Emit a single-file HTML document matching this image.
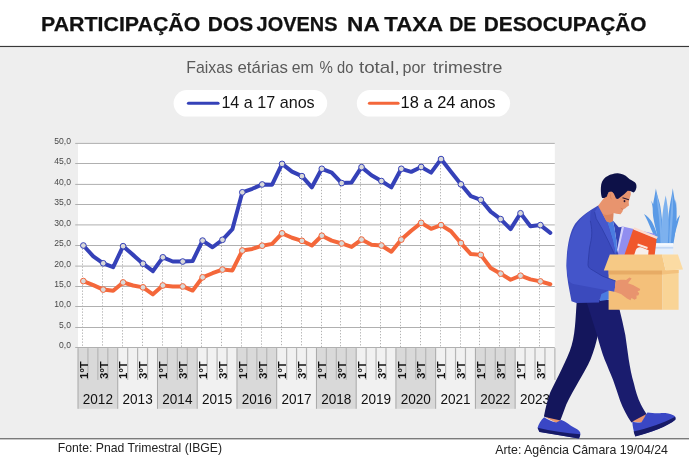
<!DOCTYPE html>
<html><head><meta charset="utf-8"><title>Participação dos jovens na taxa de desocupação</title>
<style>html,body{margin:0;padding:0;background:#fff;}body{width:689px;height:462px;overflow:hidden;position:relative;font-family:"Liberation Sans",sans-serif;}</style></head>
<body>
<svg width="689" height="462" viewBox="0 0 689 462" style="position:absolute;left:0;top:0;will-change:transform;font-family:'Liberation Sans',sans-serif">
<rect x="0" y="0" width="689" height="462" fill="#fff"/>
<rect x="0" y="47" width="689" height="391.5" fill="#eeeeee"/>
<rect x="0" y="45.9" width="689" height="1.15" fill="#383838"/>
<rect x="0" y="438.05" width="689" height="1.35" fill="#747474"/>
<text x="41.03" y="31.3" font-size="20.3" fill="#111" font-weight="bold" stroke="#111" stroke-width="0.25" textLength="159.30" lengthAdjust="spacingAndGlyphs">PARTICIPAÇÃO</text>
<text x="207.85" y="31.3" font-size="20.3" fill="#111" font-weight="bold" stroke="#111" stroke-width="0.25" textLength="45.23" lengthAdjust="spacingAndGlyphs">DOS</text>
<text x="256.60" y="31.3" font-size="20.3" fill="#111" font-weight="bold" stroke="#111" stroke-width="0.25" textLength="80.85" lengthAdjust="spacingAndGlyphs">JOVENS</text>
<text x="347.10" y="31.3" font-size="20.3" fill="#111" font-weight="bold" stroke="#111" stroke-width="0.25" textLength="32.67" lengthAdjust="spacingAndGlyphs">NA</text>
<text x="384.33" y="31.3" font-size="20.3" fill="#111" font-weight="bold" stroke="#111" stroke-width="0.25" textLength="58.72" lengthAdjust="spacingAndGlyphs">TAXA</text>
<text x="449.26" y="31.3" font-size="20.3" fill="#111" font-weight="bold" stroke="#111" stroke-width="0.25" textLength="27.09" lengthAdjust="spacingAndGlyphs">DE</text>
<text x="483.84" y="31.3" font-size="20.3" fill="#111" font-weight="bold" stroke="#111" stroke-width="0.25" textLength="162.66" lengthAdjust="spacingAndGlyphs">DESOCUPAÇÃO</text>
<text x="186.25" y="72.6" font-size="16.2" fill="#5a5a5a"  textLength="46.68" lengthAdjust="spacingAndGlyphs">Faixas</text>
<text x="237.49" y="72.6" font-size="16.2" fill="#5a5a5a"  textLength="50.54" lengthAdjust="spacingAndGlyphs">etárias</text>
<text x="291.70" y="72.6" font-size="16.2" fill="#5a5a5a"  textLength="21.93" lengthAdjust="spacingAndGlyphs">em</text>
<text x="319.57" y="72.6" font-size="16.2" fill="#5a5a5a"  textLength="13.39" lengthAdjust="spacingAndGlyphs">%</text>
<text x="337.06" y="72.6" font-size="16.2" fill="#5a5a5a"  textLength="16.34" lengthAdjust="spacingAndGlyphs">do</text>
<text x="358.99" y="72.6" font-size="16.2" fill="#5a5a5a"  textLength="40.64" lengthAdjust="spacingAndGlyphs">total,</text>
<text x="402.48" y="72.6" font-size="16.2" fill="#5a5a5a"  textLength="23.23" lengthAdjust="spacingAndGlyphs">por</text>
<text x="433.04" y="72.6" font-size="16.2" fill="#5a5a5a"  textLength="69.33" lengthAdjust="spacingAndGlyphs">trimestre</text>
<rect x="173.6" y="90.1" width="153.6" height="26.5" rx="13.25" fill="#fff"/>
<rect x="356.8" y="90.1" width="153.3" height="26.5" rx="13.25" fill="#fff"/>
<line x1="188.5" y1="103.25" x2="218" y2="103.25" stroke="#3541b8" stroke-width="3.2" stroke-linecap="round"/>
<line x1="369.5" y1="103.25" x2="398" y2="103.25" stroke="#f4673a" stroke-width="3.2" stroke-linecap="round"/>
<text x="221.4" y="108" font-size="17" fill="#151515" textLength="93.3" lengthAdjust="spacingAndGlyphs">14 a 17 anos</text>
<text x="400.6" y="108" font-size="17" fill="#111" textLength="95" lengthAdjust="spacingAndGlyphs">18 a 24 anos</text>
<rect x="78" y="143.3" width="476.8" height="204" fill="#fff"/>
<rect x="75.2" y="347.00" width="479.6" height="1" fill="#b0b0b0"/>
<text x="59.10" y="348.10" font-size="9.1" fill="#484848" textLength="11.9" lengthAdjust="spacingAndGlyphs">0,0</text>
<rect x="75.2" y="327.00" width="479.6" height="1" fill="#b0b0b0"/>
<text x="59.10" y="328.10" font-size="9.1" fill="#484848" textLength="11.9" lengthAdjust="spacingAndGlyphs">5,0</text>
<rect x="75.2" y="306.00" width="479.6" height="1" fill="#b0b0b0"/>
<text x="54.30" y="307.10" font-size="9.1" fill="#484848" textLength="16.7" lengthAdjust="spacingAndGlyphs">10,0</text>
<rect x="75.2" y="286.00" width="479.6" height="1" fill="#b0b0b0"/>
<text x="54.30" y="287.10" font-size="9.1" fill="#484848" textLength="16.7" lengthAdjust="spacingAndGlyphs">15,0</text>
<rect x="75.2" y="265.60" width="479.6" height="1" fill="#b0b0b0"/>
<text x="54.30" y="266.70" font-size="9.1" fill="#484848" textLength="16.7" lengthAdjust="spacingAndGlyphs">20,0</text>
<rect x="75.2" y="245.00" width="479.6" height="1" fill="#b0b0b0"/>
<text x="54.30" y="246.10" font-size="9.1" fill="#484848" textLength="16.7" lengthAdjust="spacingAndGlyphs">25,0</text>
<rect x="75.2" y="224.40" width="479.6" height="1" fill="#b0b0b0"/>
<text x="54.30" y="225.50" font-size="9.1" fill="#484848" textLength="16.7" lengthAdjust="spacingAndGlyphs">30,0</text>
<rect x="75.2" y="204.00" width="479.6" height="1" fill="#b0b0b0"/>
<text x="54.30" y="205.10" font-size="9.1" fill="#484848" textLength="16.7" lengthAdjust="spacingAndGlyphs">35,0</text>
<rect x="75.2" y="183.90" width="479.6" height="1" fill="#b0b0b0"/>
<text x="54.30" y="185.00" font-size="9.1" fill="#484848" textLength="16.7" lengthAdjust="spacingAndGlyphs">40,0</text>
<rect x="75.2" y="163.00" width="479.6" height="1" fill="#b0b0b0"/>
<text x="54.30" y="164.10" font-size="9.1" fill="#484848" textLength="16.7" lengthAdjust="spacingAndGlyphs">45,0</text>
<rect x="75.2" y="142.90" width="479.6" height="1" fill="#b0b0b0"/>
<text x="54.30" y="144.00" font-size="9.1" fill="#484848" textLength="16.7" lengthAdjust="spacingAndGlyphs">50,0</text>
<rect x="78.00" y="348.1" width="39.74" height="60.70" fill="#d9d9d9"/>
<rect x="117.74" y="348.1" width="39.74" height="60.70" fill="#f1f1f1"/>
<rect x="157.48" y="348.1" width="39.74" height="60.70" fill="#d9d9d9"/>
<rect x="197.22" y="348.1" width="39.74" height="60.70" fill="#f1f1f1"/>
<rect x="236.96" y="348.1" width="39.74" height="60.70" fill="#d9d9d9"/>
<rect x="276.70" y="348.1" width="39.74" height="60.70" fill="#f1f1f1"/>
<rect x="316.44" y="348.1" width="39.74" height="60.70" fill="#d9d9d9"/>
<rect x="356.18" y="348.1" width="39.74" height="60.70" fill="#f1f1f1"/>
<rect x="395.92" y="348.1" width="39.74" height="60.70" fill="#d9d9d9"/>
<rect x="435.66" y="348.1" width="39.74" height="60.70" fill="#f1f1f1"/>
<rect x="475.40" y="348.1" width="39.74" height="60.70" fill="#d9d9d9"/>
<rect x="515.14" y="348.1" width="39.74" height="60.70" fill="#f1f1f1"/>
<rect x="77.50" y="348.1" width="1" height="60.70" fill="#a8a8a8"/>
<rect x="87.34" y="348.1" width="1.2" height="31.80" fill="#b6b6b6"/>
<rect x="97.27" y="348.1" width="1.2" height="31.80" fill="#b6b6b6"/>
<rect x="107.21" y="348.1" width="1.2" height="31.80" fill="#b6b6b6"/>
<rect x="117.24" y="348.1" width="1" height="60.70" fill="#a8a8a8"/>
<rect x="127.08" y="348.1" width="1.2" height="31.80" fill="#b6b6b6"/>
<rect x="137.01" y="348.1" width="1.2" height="31.80" fill="#b6b6b6"/>
<rect x="146.95" y="348.1" width="1.2" height="31.80" fill="#b6b6b6"/>
<rect x="156.98" y="348.1" width="1" height="60.70" fill="#a8a8a8"/>
<rect x="166.82" y="348.1" width="1.2" height="31.80" fill="#b6b6b6"/>
<rect x="176.75" y="348.1" width="1.2" height="31.80" fill="#b6b6b6"/>
<rect x="186.69" y="348.1" width="1.2" height="31.80" fill="#b6b6b6"/>
<rect x="196.72" y="348.1" width="1" height="60.70" fill="#a8a8a8"/>
<rect x="206.56" y="348.1" width="1.2" height="31.80" fill="#b6b6b6"/>
<rect x="216.49" y="348.1" width="1.2" height="31.80" fill="#b6b6b6"/>
<rect x="226.43" y="348.1" width="1.2" height="31.80" fill="#b6b6b6"/>
<rect x="236.46" y="348.1" width="1" height="60.70" fill="#a8a8a8"/>
<rect x="246.30" y="348.1" width="1.2" height="31.80" fill="#b6b6b6"/>
<rect x="256.23" y="348.1" width="1.2" height="31.80" fill="#b6b6b6"/>
<rect x="266.16" y="348.1" width="1.2" height="31.80" fill="#b6b6b6"/>
<rect x="276.20" y="348.1" width="1" height="60.70" fill="#a8a8a8"/>
<rect x="286.03" y="348.1" width="1.2" height="31.80" fill="#b6b6b6"/>
<rect x="295.97" y="348.1" width="1.2" height="31.80" fill="#b6b6b6"/>
<rect x="305.90" y="348.1" width="1.2" height="31.80" fill="#b6b6b6"/>
<rect x="315.94" y="348.1" width="1" height="60.70" fill="#a8a8a8"/>
<rect x="325.77" y="348.1" width="1.2" height="31.80" fill="#b6b6b6"/>
<rect x="335.71" y="348.1" width="1.2" height="31.80" fill="#b6b6b6"/>
<rect x="345.64" y="348.1" width="1.2" height="31.80" fill="#b6b6b6"/>
<rect x="355.68" y="348.1" width="1" height="60.70" fill="#a8a8a8"/>
<rect x="365.51" y="348.1" width="1.2" height="31.80" fill="#b6b6b6"/>
<rect x="375.45" y="348.1" width="1.2" height="31.80" fill="#b6b6b6"/>
<rect x="385.38" y="348.1" width="1.2" height="31.80" fill="#b6b6b6"/>
<rect x="395.42" y="348.1" width="1" height="60.70" fill="#a8a8a8"/>
<rect x="405.25" y="348.1" width="1.2" height="31.80" fill="#b6b6b6"/>
<rect x="415.19" y="348.1" width="1.2" height="31.80" fill="#b6b6b6"/>
<rect x="425.12" y="348.1" width="1.2" height="31.80" fill="#b6b6b6"/>
<rect x="435.16" y="348.1" width="1" height="60.70" fill="#a8a8a8"/>
<rect x="445.00" y="348.1" width="1.2" height="31.80" fill="#b6b6b6"/>
<rect x="454.93" y="348.1" width="1.2" height="31.80" fill="#b6b6b6"/>
<rect x="464.87" y="348.1" width="1.2" height="31.80" fill="#b6b6b6"/>
<rect x="474.90" y="348.1" width="1" height="60.70" fill="#a8a8a8"/>
<rect x="484.74" y="348.1" width="1.2" height="31.80" fill="#b6b6b6"/>
<rect x="494.67" y="348.1" width="1.2" height="31.80" fill="#b6b6b6"/>
<rect x="504.61" y="348.1" width="1.2" height="31.80" fill="#b6b6b6"/>
<rect x="514.64" y="348.1" width="1" height="60.70" fill="#a8a8a8"/>
<rect x="524.48" y="348.1" width="1.2" height="31.80" fill="#b6b6b6"/>
<rect x="534.41" y="348.1" width="1.2" height="31.80" fill="#b6b6b6"/>
<rect x="544.35" y="348.1" width="1.2" height="31.80" fill="#b6b6b6"/>
<rect x="554.28" y="348.1" width="1.2" height="31.80" fill="#b6b6b6"/>
<text x="82.77" y="403.9" font-size="13.8" fill="#111" textLength="30.2" lengthAdjust="spacingAndGlyphs">2012</text>
<text transform="translate(87.67,379.0) rotate(-90)" font-size="10.5" font-weight="bold" fill="#111" textLength="17.6" lengthAdjust="spacingAndGlyphs">1ºT</text>
<text transform="translate(107.54,379.0) rotate(-90)" font-size="10.5" font-weight="bold" fill="#111" textLength="17.6" lengthAdjust="spacingAndGlyphs">3ºT</text>
<text x="122.51" y="403.9" font-size="13.8" fill="#111" textLength="30.2" lengthAdjust="spacingAndGlyphs">2013</text>
<text transform="translate(127.41,379.0) rotate(-90)" font-size="10.5" font-weight="bold" fill="#111" textLength="17.6" lengthAdjust="spacingAndGlyphs">1ºT</text>
<text transform="translate(147.28,379.0) rotate(-90)" font-size="10.5" font-weight="bold" fill="#111" textLength="17.6" lengthAdjust="spacingAndGlyphs">3ºT</text>
<text x="162.25" y="403.9" font-size="13.8" fill="#111" textLength="30.2" lengthAdjust="spacingAndGlyphs">2014</text>
<text transform="translate(167.15,379.0) rotate(-90)" font-size="10.5" font-weight="bold" fill="#111" textLength="17.6" lengthAdjust="spacingAndGlyphs">1ºT</text>
<text transform="translate(187.02,379.0) rotate(-90)" font-size="10.5" font-weight="bold" fill="#111" textLength="17.6" lengthAdjust="spacingAndGlyphs">3ºT</text>
<text x="201.99" y="403.9" font-size="13.8" fill="#111" textLength="30.2" lengthAdjust="spacingAndGlyphs">2015</text>
<text transform="translate(206.89,379.0) rotate(-90)" font-size="10.5" font-weight="bold" fill="#111" textLength="17.6" lengthAdjust="spacingAndGlyphs">1ºT</text>
<text transform="translate(226.76,379.0) rotate(-90)" font-size="10.5" font-weight="bold" fill="#111" textLength="17.6" lengthAdjust="spacingAndGlyphs">3ºT</text>
<text x="241.73" y="403.9" font-size="13.8" fill="#111" textLength="30.2" lengthAdjust="spacingAndGlyphs">2016</text>
<text transform="translate(246.63,379.0) rotate(-90)" font-size="10.5" font-weight="bold" fill="#111" textLength="17.6" lengthAdjust="spacingAndGlyphs">1ºT</text>
<text transform="translate(266.50,379.0) rotate(-90)" font-size="10.5" font-weight="bold" fill="#111" textLength="17.6" lengthAdjust="spacingAndGlyphs">3ºT</text>
<text x="281.47" y="403.9" font-size="13.8" fill="#111" textLength="30.2" lengthAdjust="spacingAndGlyphs">2017</text>
<text transform="translate(286.37,379.0) rotate(-90)" font-size="10.5" font-weight="bold" fill="#111" textLength="17.6" lengthAdjust="spacingAndGlyphs">1ºT</text>
<text transform="translate(306.24,379.0) rotate(-90)" font-size="10.5" font-weight="bold" fill="#111" textLength="17.6" lengthAdjust="spacingAndGlyphs">3ºT</text>
<text x="321.21" y="403.9" font-size="13.8" fill="#111" textLength="30.2" lengthAdjust="spacingAndGlyphs">2018</text>
<text transform="translate(326.11,379.0) rotate(-90)" font-size="10.5" font-weight="bold" fill="#111" textLength="17.6" lengthAdjust="spacingAndGlyphs">1ºT</text>
<text transform="translate(345.98,379.0) rotate(-90)" font-size="10.5" font-weight="bold" fill="#111" textLength="17.6" lengthAdjust="spacingAndGlyphs">3ºT</text>
<text x="360.95" y="403.9" font-size="13.8" fill="#111" textLength="30.2" lengthAdjust="spacingAndGlyphs">2019</text>
<text transform="translate(365.85,379.0) rotate(-90)" font-size="10.5" font-weight="bold" fill="#111" textLength="17.6" lengthAdjust="spacingAndGlyphs">1ºT</text>
<text transform="translate(385.72,379.0) rotate(-90)" font-size="10.5" font-weight="bold" fill="#111" textLength="17.6" lengthAdjust="spacingAndGlyphs">3ºT</text>
<text x="400.69" y="403.9" font-size="13.8" fill="#111" textLength="30.2" lengthAdjust="spacingAndGlyphs">2020</text>
<text transform="translate(405.59,379.0) rotate(-90)" font-size="10.5" font-weight="bold" fill="#111" textLength="17.6" lengthAdjust="spacingAndGlyphs">1ºT</text>
<text transform="translate(425.46,379.0) rotate(-90)" font-size="10.5" font-weight="bold" fill="#111" textLength="17.6" lengthAdjust="spacingAndGlyphs">3ºT</text>
<text x="440.43" y="403.9" font-size="13.8" fill="#111" textLength="30.2" lengthAdjust="spacingAndGlyphs">2021</text>
<text transform="translate(445.33,379.0) rotate(-90)" font-size="10.5" font-weight="bold" fill="#111" textLength="17.6" lengthAdjust="spacingAndGlyphs">1ºT</text>
<text transform="translate(465.20,379.0) rotate(-90)" font-size="10.5" font-weight="bold" fill="#111" textLength="17.6" lengthAdjust="spacingAndGlyphs">3ºT</text>
<text x="480.17" y="403.9" font-size="13.8" fill="#111" textLength="30.2" lengthAdjust="spacingAndGlyphs">2022</text>
<text transform="translate(485.07,379.0) rotate(-90)" font-size="10.5" font-weight="bold" fill="#111" textLength="17.6" lengthAdjust="spacingAndGlyphs">1ºT</text>
<text transform="translate(504.94,379.0) rotate(-90)" font-size="10.5" font-weight="bold" fill="#111" textLength="17.6" lengthAdjust="spacingAndGlyphs">3ºT</text>
<text x="519.91" y="403.9" font-size="13.8" fill="#111" textLength="30.2" lengthAdjust="spacingAndGlyphs">2023</text>
<text transform="translate(524.81,379.0) rotate(-90)" font-size="10.5" font-weight="bold" fill="#111" textLength="17.6" lengthAdjust="spacingAndGlyphs">1ºT</text>
<text transform="translate(544.68,379.0) rotate(-90)" font-size="10.5" font-weight="bold" fill="#111" textLength="17.6" lengthAdjust="spacingAndGlyphs">3ºT</text>
<line x1="82.50" y1="248.50" x2="82.50" y2="347.50" stroke="#b2b2b2" stroke-width="1" stroke-dasharray="1.3 1.7"/>
<line x1="102.50" y1="266.29" x2="102.50" y2="347.50" stroke="#b2b2b2" stroke-width="1" stroke-dasharray="1.3 1.7"/>
<line x1="122.50" y1="249.19" x2="122.50" y2="347.50" stroke="#b2b2b2" stroke-width="1" stroke-dasharray="1.3 1.7"/>
<line x1="142.50" y1="266.66" x2="142.50" y2="347.50" stroke="#b2b2b2" stroke-width="1" stroke-dasharray="1.3 1.7"/>
<line x1="162.50" y1="260.33" x2="162.50" y2="347.50" stroke="#b2b2b2" stroke-width="1" stroke-dasharray="1.3 1.7"/>
<line x1="181.50" y1="264.53" x2="181.50" y2="347.50" stroke="#b2b2b2" stroke-width="1" stroke-dasharray="1.3 1.7"/>
<line x1="201.50" y1="243.60" x2="201.50" y2="347.50" stroke="#b2b2b2" stroke-width="1" stroke-dasharray="1.3 1.7"/>
<line x1="221.50" y1="242.79" x2="221.50" y2="347.50" stroke="#b2b2b2" stroke-width="1" stroke-dasharray="1.3 1.7"/>
<line x1="241.50" y1="195.30" x2="241.50" y2="347.50" stroke="#b2b2b2" stroke-width="1" stroke-dasharray="1.3 1.7"/>
<line x1="261.50" y1="187.46" x2="261.50" y2="347.50" stroke="#b2b2b2" stroke-width="1" stroke-dasharray="1.3 1.7"/>
<line x1="281.50" y1="166.90" x2="281.50" y2="347.50" stroke="#b2b2b2" stroke-width="1" stroke-dasharray="1.3 1.7"/>
<line x1="301.50" y1="179.14" x2="301.50" y2="347.50" stroke="#b2b2b2" stroke-width="1" stroke-dasharray="1.3 1.7"/>
<line x1="321.50" y1="171.80" x2="321.50" y2="347.50" stroke="#b2b2b2" stroke-width="1" stroke-dasharray="1.3 1.7"/>
<line x1="340.50" y1="186.08" x2="340.50" y2="347.50" stroke="#b2b2b2" stroke-width="1" stroke-dasharray="1.3 1.7"/>
<line x1="360.50" y1="170.16" x2="360.50" y2="347.50" stroke="#b2b2b2" stroke-width="1" stroke-dasharray="1.3 1.7"/>
<line x1="380.50" y1="184.04" x2="380.50" y2="347.50" stroke="#b2b2b2" stroke-width="1" stroke-dasharray="1.3 1.7"/>
<line x1="400.50" y1="171.80" x2="400.50" y2="347.50" stroke="#b2b2b2" stroke-width="1" stroke-dasharray="1.3 1.7"/>
<line x1="420.50" y1="169.96" x2="420.50" y2="347.50" stroke="#b2b2b2" stroke-width="1" stroke-dasharray="1.3 1.7"/>
<line x1="440.50" y1="162.09" x2="440.50" y2="347.50" stroke="#b2b2b2" stroke-width="1" stroke-dasharray="1.3 1.7"/>
<line x1="460.50" y1="187.30" x2="460.50" y2="347.50" stroke="#b2b2b2" stroke-width="1" stroke-dasharray="1.3 1.7"/>
<line x1="479.50" y1="202.80" x2="479.50" y2="347.50" stroke="#b2b2b2" stroke-width="1" stroke-dasharray="1.3 1.7"/>
<line x1="499.50" y1="222.10" x2="499.50" y2="347.50" stroke="#b2b2b2" stroke-width="1" stroke-dasharray="1.3 1.7"/>
<line x1="519.50" y1="216.27" x2="519.50" y2="347.50" stroke="#b2b2b2" stroke-width="1" stroke-dasharray="1.3 1.7"/>
<line x1="539.50" y1="228.10" x2="539.50" y2="347.50" stroke="#b2b2b2" stroke-width="1" stroke-dasharray="1.3 1.7"/>
<polyline points="83.37,281.08 93.30,285.08 103.24,289.60 113.17,290.79 123.11,282.46 133.04,285.48 142.98,287.36 152.91,294.34 162.85,285.48 172.78,286.46 182.72,286.46 192.65,290.58 202.59,277.32 212.52,273.24 222.46,269.57 232.39,270.39 242.33,250.52 252.26,248.97 262.20,245.66 272.13,243.87 282.07,233.34 292.00,237.75 301.94,240.81 311.87,245.50 321.81,235.71 331.74,240.60 341.68,243.46 351.61,246.89 361.55,239.58 371.48,244.68 381.42,245.50 391.35,251.74 401.29,239.58 411.22,230.81 421.16,222.86 431.09,228.77 441.03,225.10 450.96,231.22 460.90,243.05 470.83,254.07 480.77,254.88 490.70,267.94 500.64,273.65 510.57,279.77 520.51,275.69 530.44,279.36 540.38,281.40 550.31,284.26" fill="none" stroke="#f4673a" stroke-width="4" stroke-linejoin="round" stroke-linecap="round"/>
<circle cx="83.37" cy="281.08" r="2.85" fill="#d9d9d9" stroke="#f4673a" stroke-width="1.0"/>
<circle cx="103.24" cy="289.60" r="2.85" fill="#d9d9d9" stroke="#f4673a" stroke-width="1.0"/>
<circle cx="123.11" cy="282.46" r="2.85" fill="#d9d9d9" stroke="#f4673a" stroke-width="1.0"/>
<circle cx="142.98" cy="287.36" r="2.85" fill="#d9d9d9" stroke="#f4673a" stroke-width="1.0"/>
<circle cx="162.85" cy="285.48" r="2.85" fill="#d9d9d9" stroke="#f4673a" stroke-width="1.0"/>
<circle cx="182.72" cy="286.46" r="2.85" fill="#d9d9d9" stroke="#f4673a" stroke-width="1.0"/>
<circle cx="202.59" cy="277.32" r="2.85" fill="#d9d9d9" stroke="#f4673a" stroke-width="1.0"/>
<circle cx="222.46" cy="269.57" r="2.85" fill="#d9d9d9" stroke="#f4673a" stroke-width="1.0"/>
<circle cx="242.33" cy="250.52" r="2.85" fill="#d9d9d9" stroke="#f4673a" stroke-width="1.0"/>
<circle cx="262.20" cy="245.66" r="2.85" fill="#d9d9d9" stroke="#f4673a" stroke-width="1.0"/>
<circle cx="282.07" cy="233.34" r="2.85" fill="#d9d9d9" stroke="#f4673a" stroke-width="1.0"/>
<circle cx="301.94" cy="240.81" r="2.85" fill="#d9d9d9" stroke="#f4673a" stroke-width="1.0"/>
<circle cx="321.81" cy="235.71" r="2.85" fill="#d9d9d9" stroke="#f4673a" stroke-width="1.0"/>
<circle cx="341.68" cy="243.46" r="2.85" fill="#d9d9d9" stroke="#f4673a" stroke-width="1.0"/>
<circle cx="361.55" cy="239.58" r="2.85" fill="#d9d9d9" stroke="#f4673a" stroke-width="1.0"/>
<circle cx="381.42" cy="245.50" r="2.85" fill="#d9d9d9" stroke="#f4673a" stroke-width="1.0"/>
<circle cx="401.29" cy="239.58" r="2.85" fill="#d9d9d9" stroke="#f4673a" stroke-width="1.0"/>
<circle cx="421.16" cy="222.86" r="2.85" fill="#d9d9d9" stroke="#f4673a" stroke-width="1.0"/>
<circle cx="441.03" cy="225.10" r="2.85" fill="#d9d9d9" stroke="#f4673a" stroke-width="1.0"/>
<circle cx="460.90" cy="243.05" r="2.85" fill="#d9d9d9" stroke="#f4673a" stroke-width="1.0"/>
<circle cx="480.77" cy="254.88" r="2.85" fill="#d9d9d9" stroke="#f4673a" stroke-width="1.0"/>
<circle cx="500.64" cy="273.65" r="2.85" fill="#d9d9d9" stroke="#f4673a" stroke-width="1.0"/>
<circle cx="520.51" cy="275.69" r="2.85" fill="#d9d9d9" stroke="#f4673a" stroke-width="1.0"/>
<circle cx="540.38" cy="281.40" r="2.85" fill="#d9d9d9" stroke="#f4673a" stroke-width="1.0"/>
<polyline points="83.37,245.50 93.30,256.31 103.24,263.29 113.17,267.12 123.11,246.19 133.04,254.88 142.98,263.66 152.91,271.20 162.85,257.33 172.78,261.53 182.72,261.53 192.65,261.00 202.59,240.60 212.52,247.25 222.46,239.79 232.39,229.18 242.33,192.30 252.26,188.79 262.20,184.46 272.13,184.71 282.07,163.90 292.00,171.65 301.94,176.14 311.87,187.32 321.81,168.80 331.74,172.59 341.68,183.08 351.61,182.46 361.55,167.16 371.48,175.32 381.42,181.04 391.35,187.32 401.29,168.80 411.22,171.86 421.16,166.96 431.09,172.63 441.03,159.09 450.96,171.65 460.90,184.30 470.83,196.13 480.77,199.80 490.70,211.64 500.64,219.10 510.57,229.18 520.51,213.27 530.44,226.32 540.38,225.10 550.31,232.85" fill="none" stroke="#3541b8" stroke-width="4" stroke-linejoin="round" stroke-linecap="round"/>
<circle cx="83.37" cy="245.50" r="2.85" fill="#d9d9d9" stroke="#3541b8" stroke-width="1.0"/>
<circle cx="103.24" cy="263.29" r="2.85" fill="#d9d9d9" stroke="#3541b8" stroke-width="1.0"/>
<circle cx="123.11" cy="246.19" r="2.85" fill="#d9d9d9" stroke="#3541b8" stroke-width="1.0"/>
<circle cx="142.98" cy="263.66" r="2.85" fill="#d9d9d9" stroke="#3541b8" stroke-width="1.0"/>
<circle cx="162.85" cy="257.33" r="2.85" fill="#d9d9d9" stroke="#3541b8" stroke-width="1.0"/>
<circle cx="182.72" cy="261.53" r="2.85" fill="#d9d9d9" stroke="#3541b8" stroke-width="1.0"/>
<circle cx="202.59" cy="240.60" r="2.85" fill="#d9d9d9" stroke="#3541b8" stroke-width="1.0"/>
<circle cx="222.46" cy="239.79" r="2.85" fill="#d9d9d9" stroke="#3541b8" stroke-width="1.0"/>
<circle cx="242.33" cy="192.30" r="2.85" fill="#d9d9d9" stroke="#3541b8" stroke-width="1.0"/>
<circle cx="262.20" cy="184.46" r="2.85" fill="#d9d9d9" stroke="#3541b8" stroke-width="1.0"/>
<circle cx="282.07" cy="163.90" r="2.85" fill="#d9d9d9" stroke="#3541b8" stroke-width="1.0"/>
<circle cx="301.94" cy="176.14" r="2.85" fill="#d9d9d9" stroke="#3541b8" stroke-width="1.0"/>
<circle cx="321.81" cy="168.80" r="2.85" fill="#d9d9d9" stroke="#3541b8" stroke-width="1.0"/>
<circle cx="341.68" cy="183.08" r="2.85" fill="#d9d9d9" stroke="#3541b8" stroke-width="1.0"/>
<circle cx="361.55" cy="167.16" r="2.85" fill="#d9d9d9" stroke="#3541b8" stroke-width="1.0"/>
<circle cx="381.42" cy="181.04" r="2.85" fill="#d9d9d9" stroke="#3541b8" stroke-width="1.0"/>
<circle cx="401.29" cy="168.80" r="2.85" fill="#d9d9d9" stroke="#3541b8" stroke-width="1.0"/>
<circle cx="421.16" cy="166.96" r="2.85" fill="#d9d9d9" stroke="#3541b8" stroke-width="1.0"/>
<circle cx="441.03" cy="159.09" r="2.85" fill="#d9d9d9" stroke="#3541b8" stroke-width="1.0"/>
<circle cx="460.90" cy="184.30" r="2.85" fill="#d9d9d9" stroke="#3541b8" stroke-width="1.0"/>
<circle cx="480.77" cy="199.80" r="2.85" fill="#d9d9d9" stroke="#3541b8" stroke-width="1.0"/>
<circle cx="500.64" cy="219.10" r="2.85" fill="#d9d9d9" stroke="#3541b8" stroke-width="1.0"/>
<circle cx="520.51" cy="213.27" r="2.85" fill="#d9d9d9" stroke="#3541b8" stroke-width="1.0"/>
<circle cx="540.38" cy="225.10" r="2.85" fill="#d9d9d9" stroke="#3541b8" stroke-width="1.0"/>
<text x="57.8" y="451.9" font-size="12.2" fill="#222" textLength="164.2" lengthAdjust="spacingAndGlyphs">Fonte: Pnad Trimestral (IBGE)</text>
<text x="495.2" y="454" font-size="12.2" fill="#222" textLength="172.8" lengthAdjust="spacingAndGlyphs">Arte: Agência Câmara 19/04/24</text>
<g id="person">
<!-- plant leaves -->
<g fill="#5a9ae6">
<path d="M644,213.9 C647,215.5 650.1,219.1 652,222 C655.3,228 657.5,235 659.5,243.5 L656.3,243.5 C655,239 653.2,233.5 651,229 C649.1,224.2 646.5,218 644,213.9 Z"/>
<path d="M680,215 C678.5,216.5 675.8,221.1 674.5,225 C672.5,231 671,237 669.7,243.5 L672.5,243.5 C673.5,240 674.8,233.5 676.2,229 C677.9,223.2 679,219 680,215 Z"/>
<path d="M651.2,200.6 C652.5,206 654,214 655.5,222 C656.8,230 657.5,237 657.8,243.5 L661.5,243.5 C660.5,234 658.8,224 656.6,215 C655,209 653,204 651.2,200.6 Z"/>
<path d="M675.8,199.5 C675,205 674,213 673,221 C672,229 671,237 670.2,243.5 L673.5,243.5 C675,235 676.3,226 676.6,218 C676.8,211 676.5,205 675.8,199.5 Z"/>
<path d="M655.9,188.6 C655.2,192 654.7,196.5 653.6,201 C652.4,206.7 652.6,212 653.2,217 C653.9,222 655.9,229.4 657,234 L658.6,243.5 L664,243.5 C663.6,236 662.8,228 662.1,221.1 C661.6,215 660.9,210 660.4,206.7 C659.5,201 657.3,196.5 655.9,188.6 Z"/>
<path d="M672.8,188.2 C672.3,192 671.6,196 671.1,198.5 C670.2,203 669.6,207 669.1,210.8 C668.4,216 667.9,221 667.6,225.2 L666.4,243.5 L671.9,243.5 C673.3,237 674.3,231 674.8,225.2 C675.6,219 676,213 675.8,208.8 C675.6,204 675,201 674.4,198.5 C673.8,195 673.2,191 672.8,188.2 Z"/>
</g>
<g fill="#7db1ee">
<path d="M665.6,195.4 C665,199 664.2,203 663.5,206.7 C662.7,212 662.2,217 662.1,221.1 L661.9,243.5 L667.8,243.5 C668.3,236 668.7,228 668.6,221.1 C668.4,216 668.1,211 667.6,206.7 C667,202 666.3,198 665.6,195.4 Z"/>
<path d="M656.2,192 C656.6,199 657.6,206 658.6,214 C659.4,222 660.2,232 660.6,243.5 L662.6,243.5 C662.3,233 661.6,223 660.6,214 C659.6,206 658,198 656.2,192 Z"/>
<path d="M672.6,192 C672,199 671.3,207 670.7,214 C670,223 669.4,233 669,243.5 L670.8,243.5 C671.6,233 672.4,223 672.9,214 C673.2,206 673.1,198 672.6,192 Z"/>
</g>
<!-- pot -->
<rect x="653.2" y="243.3" width="20" height="11.2" fill="#e6effb"/>
<rect x="653.2" y="243.3" width="20" height="2.2" fill="#f6faff"/>
<rect x="653.2" y="247" width="20" height="1.6" fill="#c4d8f4"/>
<!-- books -->
<path d="M615.2,255 L621.7,226.3 L655.3,234 L650,255 Z" fill="#918ef0"/>
<path d="M621.7,226.3 L624,226.9 L617.6,255 L615.2,255 Z" fill="#d3d1fb"/>
<path d="M624.4,255 L633.3,229 L656.7,238.6 L654.7,255 Z" fill="#f0572b"/>
<path d="M633.3,229.4 L634.4,227.2 L657.8,236.8 L656.7,239 Z" fill="#fcdccf"/>
<path d="M635.8,250 C636.8,247.6 639,246.8 641.5,247.6 L648.6,250.2 L648.2,255 L634.2,255 Z" fill="#f6efec"/>
<path d="M637.9,243.4 L647.8,247 L647.2,249 L637.3,245.4 Z" fill="#fbe6dd"/>
<!-- back leg -->
<path d="M576.8,300 C576,312 575.5,322 575,326 C574,336 572.5,344 569.8,351 C566.5,359.5 562.5,367.5 558.9,374.9 C555.8,381 552.8,386.8 550.3,392.2 C547.6,399.5 545.6,407.5 543.9,416.4 L559.6,422.6 L566.4,404.3 C570,396.5 574.5,389 578.5,381.8 C583,374 587.5,366.5 590.6,359.3 C594,351 596,343 597.5,336.8 L612,300 Z" fill="#14165c"/>
<!-- front leg -->
<path d="M586,300 L597.5,336.8 C599.5,344.5 602,352.5 604.5,359.3 C607.5,366.5 610.5,373.5 613.1,380.1 C615.5,387 618,394 620.1,400.8 C623,408.5 627,416 631.4,422.6 L647.3,415.2 C645,411.5 642.5,408 640.8,404.3 C637.5,397.5 635.5,390.5 633.9,383.5 C631.5,375.5 630,367.5 628.7,359.3 C627.5,351 626.5,343 625.3,335 C623.5,326 621.5,317.5 619.4,309 L618,300 Z" fill="#1a1c6e"/>
<!-- left shoe -->
<path d="M545,417 L560.6,420.4 L557.5,423.4 Z" fill="#e8946e"/>
<path d="M544.1,417.2 C541,420 538.5,424 537.6,428 L539.4,431.8 L578.7,438.5 C580.3,436.5 580.7,434 580.1,432.2 C579,430.3 576.5,429 574,427.6 C570,425.5 566,421.5 561.5,420 C559.5,420.6 558,421.6 556.5,422.6 C552,421.8 548,419.8 544.1,417.2 Z" fill="#3a47c5"/>
<path d="M537.6,427.8 C551,430.8 566,433.3 580.2,434.2 C580.1,435.8 579.6,437.4 578.7,438.6 L539.4,431.9 Z" fill="#171a66"/>
<!-- right shoe -->
<path d="M632.4,421.6 L646.6,414 L642,422.6 Z" fill="#e8946e"/>
<path d="M632.3,421.8 C632.5,426 633.5,431 635.3,436.3 C650,433 668,426 675.4,419.6 C675.8,417.5 675,416 673.8,415.4 C669,413.2 664,412.8 660,413.2 C655,413.6 651,412.4 647.4,412.4 C645.5,415.5 643.5,419 641.5,422.2 C638.5,422.8 635.5,422.6 632.3,421.8 Z" fill="#3a47c5"/>
<path d="M633.6,431.4 C648,428.7 664,422.7 675.2,416.8 C675.6,417.7 675.6,418.7 675.4,419.7 C668,426 650,433 635.3,436.4 Z" fill="#171a66"/>
<!-- shirt hem -->
<path d="M598,289 L610,289 L610,299.5 L600,301 Z" fill="#4a7be0"/>
<!-- jacket body -->
<path d="M598.6,205.2 C590,210 580,217 575,224 C569,233 566.5,250 566.4,266 C566.6,278 569.5,290 571.5,301.2 L576.4,303 L599,302.6 L601.4,294 L610,290 L618.3,254 L608.5,221.5 Z" fill="#3b4abd"/>
<!-- shirt V -->
<path d="M612.9,220.5 L618.8,227.2 L621.6,227 L616.2,254 L617,250.2 L616.4,240.7 L614.6,228.8 Z" fill="#3544b4"/>
<path d="M606.5,220.5 L609.9,221.7 L612.9,220.5 L614.6,228.8 L616.4,240.7 L617,250.2 L615.6,254 L612.9,240.7 L609.3,228.8 Z" fill="#4a7be0"/>
<!-- lapel -->
<path d="M598.6,205.4 L594.6,212 L596.2,218.6 L602.1,228.8 L608.1,240.7 L614.4,254 L615.8,254 L612.9,240.7 L609.3,228.8 L606.9,221 Z" fill="#4657cc"/>
<path d="M594.6,212 L596.2,218.6 L602.1,228.8 L608.1,240.7 L614.4,254" fill="none" stroke="#2f3da8" stroke-width="0.8"/>
<!-- box -->
<path d="M608.6,270 L662.5,270 L662.5,309.8 L608.6,309.8 Z" fill="#f4c07a"/>
<path d="M662.5,270 L678.6,270 L678.6,309.8 L662.5,309.8 Z" fill="#f9d496"/>
<path d="M608.6,270 L662.5,270 L662.5,274.6 L608.6,274.6 Z" fill="#e7ab65"/>
<path d="M662.5,270 L678.6,270 L678.6,273 L662.5,274.6 Z" fill="#f3c17d"/>
<path d="M609.8,254.4 L662,254.4 L665.6,270.5 L603.8,270.5 Z" fill="#f6c985"/>
<path d="M662,254.4 L677.9,254.4 L683,269.5 L665.6,270.5 Z" fill="#fbdba3"/>
<!-- sleeve -->
<path d="M591,210.5 C581,216.5 572.5,227 569,244 C566.5,258 566,270 568.3,279 C569.5,283 572,284 576,284.5 L614.5,291.7 L615.7,281 L602.6,276.2 L590.7,269 C589,268 588,266.5 588,264.7 C588.3,259 589,253 589.5,248 C590.5,243 591.8,238 591.8,232.9 C591.8,228 591,224 590.3,220.8 C590,217 590.3,213.5 591,210.5 Z" fill="#4455ca"/>
<path d="M590.3,220.8 C591,224 591.8,228 591.8,232.9 C591.8,238 590.5,243 589.5,248 C589,253 588.3,259 588,264.7 C588,266.5 589,268 590.7,269 L602.6,276.2 L615.7,281" fill="none" stroke="#2f3da8" stroke-width="0.9"/>
<!-- hand -->
<path d="M615.7,281 C619,279.5 623,279.5 626,280 L629.5,277.6 L631.6,278.4 L628,283.2 L633,285 L640.2,289 L639.6,290.8 L637.5,291 L639.2,293.5 L638.2,295.5 L636.5,295.6 L636.6,298.5 L634.5,299.8 L631.5,298 L630.5,300.2 L627,298.5 L621,294 L614.5,291.7 Z" fill="#e8946e"/>
<!-- neck & face -->
<path d="M604.3,197.6 L598.1,205.7 L606.5,221.2 L609.9,222.4 L613,221 L613.4,213 L616.6,213.7 L620.5,214.2 L622.5,211.5 L623.1,209.3 L625.1,208.5 L627,206.7 L629,205.4 L628.7,202 L630.9,194 L630.5,191.2 L627.7,190 L610.8,190 Z" fill="#e8946e"/>
<path d="M613.4,213 L613,221 L609.9,222.4 L606.5,221.2 L602.8,214 C606,215.6 610,215 613.4,213 Z" fill="#dc8660"/>
<!-- hair -->
<path d="M602.3,198.1 C601,196 600.6,190 601,186.2 C601.3,183.5 602,181.5 603,180.3 C604,178.5 605.5,177 606.9,176.4 C608.5,175.2 610.5,174.6 612.1,174.2 C614,173.4 616,173.1 617.9,173.2 C619.8,173.3 621.6,173.8 623.1,174.5 C625,175.3 626.5,176.4 627.7,177.4 C629,178.6 630.4,179.6 631.6,180.3 L634.8,182.3 C635.8,183.2 636.3,184.3 636.4,185.5 C636.6,186.6 636.5,187.8 636.1,188.8 C635.8,189.8 635.4,190.8 634.8,191.4 L633.5,192.4 L630.3,191.1 L627.7,190.7 L624.4,194 L621.2,196.6 L617.9,198.9 L616,198.5 L614,194 L611.4,191.4 L608.8,192 L607.5,194.6 L606.9,196.6 L604.3,198.1 Z" fill="#0d1148"/>
<!-- ear -->
<ellipse cx="611.9" cy="196" rx="2.2" ry="4" fill="#e8946e" transform="rotate(-8 611.9 196)"/>
<path d="M611,193.5 C610,195 610.3,198 611.6,199.3" fill="none" stroke="#cf7a55" stroke-width="0.6"/>
<!-- eye/brow/mouth -->
<path d="M622.6,197.3 L629,199.2 L628.8,200.2 L622.4,198.3 Z" fill="#2a1830"/>
<ellipse cx="624.5" cy="201.2" rx="0.9" ry="1.1" fill="#2a1830"/>
<path d="M620.8,208 C621.8,209 622.6,209.4 623.3,209.3" fill="none" stroke="#c86e50" stroke-width="0.7"/>
</g>

</svg>
</body></html>
